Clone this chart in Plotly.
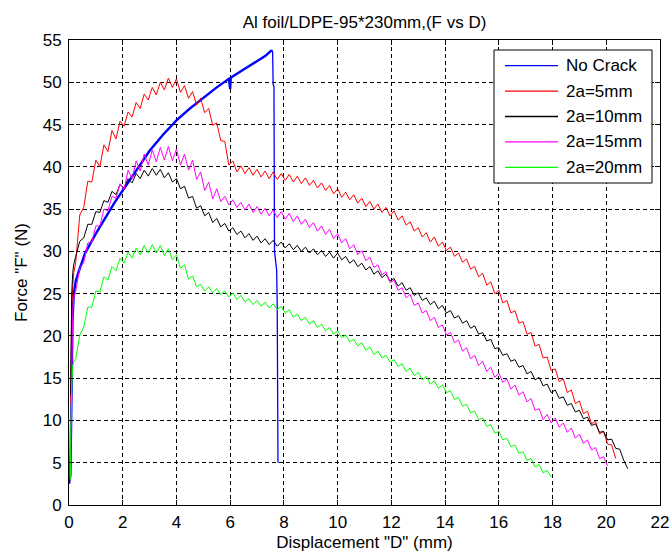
import plotly.graph_objects as go

# ---------------------------------------------------------------------------
# Data: force (N) against displacement (mm) for the five specimens
# ---------------------------------------------------------------------------

# Displacement sampling points shared by the cracked specimens (mm)
disp_grid = [
    0.25, 0.40, 0.55, 0.70, 0.85, 1.00, 1.15, 1.30, 1.45, 1.60,
    1.75, 1.90, 2.05, 2.20, 2.35, 2.50, 2.65, 2.80, 2.95, 3.10,
    3.25, 3.40, 3.55, 3.70, 3.85, 4.00, 4.15, 4.30, 4.45, 4.60,
    4.75, 4.90, 5.05, 5.20, 5.35, 5.50, 5.65, 5.80, 5.95, 6.10,
    6.25, 6.40, 6.55, 6.70, 6.85, 7.00, 7.15, 7.30, 7.45, 7.60,
    7.75, 7.90, 8.05, 8.20, 8.35, 8.50, 8.65, 8.80, 8.95, 9.10,
    9.25, 9.40, 9.55, 9.70, 9.85, 10.00, 10.15, 10.30, 10.45, 10.60,
    10.75, 10.90, 11.05, 11.20, 11.35, 11.50, 11.65, 11.80, 11.95, 12.10,
    12.25, 12.40, 12.55, 12.70, 12.85, 13.00, 13.15, 13.30, 13.45, 13.60,
    13.75, 13.90, 14.05, 14.20, 14.35, 14.50, 14.65, 14.80, 14.95, 15.10,
    15.25, 15.40, 15.55, 15.70, 15.85, 16.00, 16.15, 16.30, 16.45, 16.60,
    16.75, 16.90, 17.05, 17.20, 17.35, 17.50, 17.65, 17.80, 17.95, 18.10,
    18.25, 18.40, 18.55, 18.70, 18.85, 19.00, 19.15, 19.30, 19.45, 19.60,
    19.75, 19.90, 20.05, 20.20, 20.35, 20.50, 20.65, 20.80,
]

# No crack: smooth loading up to failure, then sudden drop
nocrack_d = [0.00, 0.05, 0.08, 0.10, 0.13, 0.18, 0.25, 0.35, 0.60, 1.00,
             1.40, 1.70, 2.00, 2.50, 3.00, 3.50, 4.00, 4.50, 5.00, 5.50,
             5.95, 6.00, 6.02, 6.05, 6.50, 7.00, 7.30, 7.55, 7.58, 7.60,
             7.63, 7.65, 7.70, 7.73, 7.75, 7.78]
nocrack_f = [2.5, 3.5, 10.0, 17.0, 22.0, 25.0, 26.5, 27.5, 29.8, 32.1,
             34.3, 35.8, 37.2, 39.6, 41.9, 43.8, 45.5, 46.9, 48.2, 49.4,
             50.4, 49.2, 50.5, 50.6, 51.5, 52.5, 53.1, 53.8, 53.6, 49.7,
             49.5, 30.0, 28.5, 27.8, 24.0, 5.0]

# 2a = 5 mm
crack5_start_d = [0.06, 0.08, 0.10, 0.14, 0.18]
crack5_start_f = [12.0, 19.0, 23.0, 26.0, 27.5]
crack5_f = [
    28.7, 34.3, 35.2, 38.3, 38.2, 40.8, 40.0, 42.6, 41.8, 44.3,
    43.3, 45.4, 44.8, 46.5, 45.9, 47.6, 46.9, 48.6, 47.9, 49.4,
    48.5, 50.0, 49.1, 50.5, 49.4, 50.4, 48.8, 49.6, 48.1, 48.9,
    47.3, 48.1, 46.4, 46.9, 44.9, 45.2, 43.1, 43.0, 40.2, 40.7,
    39.4, 40.1, 39.2, 39.9, 39.0, 39.7, 38.8, 39.5, 38.6, 39.4,
    38.5, 39.2, 38.4, 39.1, 38.2, 38.9, 38.0, 38.7, 37.8, 38.4,
    37.5, 38.1, 37.2, 37.8, 36.8, 37.4, 36.4, 37.0, 36.1, 36.7,
    35.7, 36.3, 35.3, 35.9, 35.0, 35.6, 34.6, 35.2, 34.2, 34.8,
    33.7, 34.2, 33.1, 33.5, 32.4, 32.8, 31.7, 32.2, 31.1, 31.7,
    30.6, 31.1, 30.1, 30.5, 29.4, 29.8, 28.7, 29.1, 27.9, 28.2,
    27.0, 27.4, 26.0, 26.4, 25.0, 25.4, 23.9, 24.2, 22.7, 23.0,
    21.5, 21.7, 20.2, 20.4, 18.8, 19.0, 17.4, 17.5, 15.9, 16.1,
    14.6, 14.9, 13.3, 13.6, 12.0, 12.3, 10.8, 11.1, 9.6, 9.9,
    8.4, 8.7, 7.2, 7.1, 5.5,
]

# 2a = 10 mm
crack10_start_d = [0.06, 0.08, 0.10, 0.14, 0.18]
crack10_start_f = [13.0, 20.0, 25.0, 27.5, 28.5]
crack10_f = [
    29.4, 31.2, 31.6, 33.2, 33.2, 34.7, 34.6, 36.0, 35.8, 37.1,
    36.7, 37.9, 37.5, 38.6, 38.1, 39.2, 38.6, 39.6, 38.9, 39.8,
    39.0, 39.7, 38.7, 39.3, 38.2, 38.6, 37.4, 37.7, 36.3, 36.5,
    35.1, 35.4, 34.2, 34.6, 33.4, 33.9, 32.9, 33.3, 32.4, 32.8,
    32.0, 32.4, 31.6, 32.1, 31.3, 31.8, 31.0, 31.5, 30.8, 31.3,
    30.6, 31.1, 30.4, 30.9, 30.2, 30.7, 30.0, 30.5, 29.8, 30.3,
    29.6, 30.1, 29.4, 29.9, 29.2, 29.8, 29.0, 29.4, 28.6, 29.0,
    28.2, 28.6, 27.8, 28.2, 27.3, 27.7, 26.9, 27.3, 26.5, 26.8,
    25.9, 26.3, 25.4, 25.7, 24.8, 25.1, 24.2, 24.5, 23.7, 24.1,
    23.2, 23.6, 22.7, 23.0, 22.1, 22.4, 21.5, 21.8, 20.9, 21.2,
    20.2, 20.4, 19.4, 19.6, 18.5, 18.6, 17.7, 17.9, 17.0, 17.2,
    16.3, 16.5, 15.5, 15.8, 14.8, 15.1, 14.1, 14.3, 13.3, 13.6,
    12.6, 12.8, 11.8, 12.0, 11.0, 11.2, 10.2, 10.4, 9.4, 9.6,
    8.6, 8.7, 7.7, 7.8, 6.7, 6.6, 5.3, 4.3,
]

# 2a = 15 mm
crack15_start_d = [0.04, 0.06, 0.08, 0.10, 0.14, 0.18]
crack15_start_f = [3.0, 8.0, 14.0, 20.0, 23.0, 24.5]
crack15_f = [
    25.3, 28.0, 28.7, 31.0, 31.1, 33.0, 33.0, 35.0, 34.8, 36.5,
    36.3, 38.0, 37.3, 39.6, 38.6, 40.7, 39.5, 41.5, 40.2, 42.0,
    40.6, 42.3, 40.8, 42.4, 40.7, 42.1, 40.2, 41.5, 39.6, 40.8,
    38.5, 39.4, 37.2, 38.2, 36.2, 37.4, 35.9, 36.5, 35.5, 36.1,
    35.2, 35.8, 34.9, 35.6, 34.6, 35.3, 34.4, 35.1, 34.2, 34.9,
    34.0, 34.7, 33.8, 34.5, 33.5, 34.2, 33.2, 33.8, 32.8, 33.4,
    32.4, 33.0, 32.0, 32.6, 31.5, 32.1, 31.0, 31.5, 30.3, 30.8,
    29.6, 30.1, 28.9, 29.3, 28.1, 28.4, 27.2, 27.6, 26.3, 26.6,
    25.4, 25.7, 24.5, 24.9, 23.6, 23.9, 22.7, 23.0, 21.8, 22.2,
    21.0, 21.3, 20.1, 20.4, 19.2, 19.5, 18.2, 18.6, 17.3, 17.7,
    16.5, 17.0, 15.8, 16.3, 15.1, 15.6, 14.5, 14.9, 13.7, 14.2,
    13.0, 13.4, 12.2, 12.6, 11.2, 11.4, 10.1, 10.7, 9.7, 10.3,
    9.2, 9.7, 8.6, 9.1, 7.9, 8.4, 7.3, 7.7, 6.5, 6.8,
    5.5, 5.7, 4.6,
]

# 2a = 20 mm
crack20_start_d = [0.05, 0.05, 0.07, 0.10, 0.14, 0.18]
crack20_start_f = [3.0, 5.5, 9.5, 14.0, 16.5, 17.0]
crack20_f = [
    17.3, 20.1, 21.1, 23.4, 23.4, 25.3, 25.2, 27.0, 26.6, 28.2,
    27.7, 29.2, 28.6, 29.9, 29.2, 30.4, 29.6, 30.7, 29.8, 30.8,
    29.8, 30.7, 29.5, 30.3, 29.0, 29.6, 28.0, 28.4, 26.7, 27.1,
    25.8, 26.1, 25.3, 25.8, 25.1, 25.6, 24.9, 25.3, 24.6, 25.1,
    24.3, 24.8, 24.0, 24.4, 23.7, 24.2, 23.5, 24.0, 23.3, 23.8,
    23.1, 23.5, 22.7, 23.1, 22.2, 22.6, 21.8, 22.2, 21.4, 21.8,
    21.0, 21.4, 20.6, 21.0, 20.2, 20.6, 19.8, 20.1, 19.3, 19.6,
    18.8, 19.2, 18.3, 18.7, 17.8, 18.2, 17.4, 17.7, 16.9, 17.2,
    16.4, 16.7, 15.8, 16.2, 15.3, 15.7, 14.8, 15.2, 14.3, 14.7,
    13.8, 14.2, 13.3, 13.5, 12.5, 12.7, 11.7, 11.9, 10.9, 11.1,
    10.1, 10.3, 9.3, 9.5, 8.5, 8.7, 7.7, 7.9, 6.9, 7.1,
    6.1, 6.3, 5.3, 5.5, 4.5, 4.8, 3.8, 4.1, 3.3,
]

series_names = ["No Crack", "2a=5mm", "2a=10mm", "2a=15mm", "2a=20mm"]
series_colors = ["#0000FF", "#FF0000", "#000000", "#FF00FF", "#00FF00"]

x_ticks = [0, 2, 4, 6, 8, 10, 12, 14, 16, 18, 20, 22]
y_ticks = [0, 5, 10, 15, 20, 25, 30, 35, 40, 45, 50, 55]

# ---------------------------------------------------------------------------
# Figure geometry
# ---------------------------------------------------------------------------
W, H = 670, 558
L, R, T, B = 69, 10, 40, 53
PW, PH = W - L - R, H - T - B
FONT = "Liberation Sans, Arial, Helvetica, sans-serif"
FS = 17


def paper_x(px):
    return (px - L) / PW


def paper_y(py):
    return (H - B - py) / PH


def cracked(start_d, start_f, tail_f):
    d = list(start_d) + disp_grid[:len(tail_f)]
    f = list(start_f) + list(tail_f)
    return d, f


fig = go.Figure()

# No-crack specimen: loading branch drawn heavier, failure drop thin
peak = nocrack_f.index(max(nocrack_f))
fig.add_trace(go.Scatter(
    x=nocrack_d[:peak + 1], y=nocrack_f[:peak + 1], mode="lines",
    line=dict(color=series_colors[0], width=2.4), name=series_names[0],
    showlegend=False, hoverinfo="skip"))
fig.add_trace(go.Scatter(
    x=nocrack_d[peak:], y=nocrack_f[peak:], mode="lines",
    line=dict(color=series_colors[0], width=1.3), showlegend=False,
    hoverinfo="skip"))

for name, color, (d, f) in zip(
        series_names[1:], series_colors[1:],
        [cracked(crack5_start_d, crack5_start_f, crack5_f),
         cracked(crack10_start_d, crack10_start_f, crack10_f),
         cracked(crack15_start_d, crack15_start_f, crack15_f),
         cracked(crack20_start_d, crack20_start_f, crack20_f)]):
    fig.add_trace(go.Scatter(
        x=d, y=f, mode="lines", line=dict(color=color, width=1.0),
        name=name, showlegend=False, hoverinfo="skip"))

axis_common = dict(
    showline=True, linecolor="black", linewidth=1, mirror="ticks",
    ticks="inside", ticklen=5, tickwidth=1, tickcolor="black",
    showgrid=True, gridcolor="black", gridwidth=1, griddash="4px,3px",
    zeroline=False, automargin=False,
    tickfont=dict(family=FONT, size=FS, color="black"),
)

fig.update_xaxes(range=[0, 22], tickvals=x_ticks, ticklabelstandoff=2,
                 title=dict(text='Displacement "D" (mm)', standoff=4,
                            font=dict(family=FONT, size=FS, color="black")),
                 **axis_common)
fig.update_yaxes(range=[0, 55], tickvals=y_ticks, ticklabelstandoff=3,
                 title=dict(text='Force "F" (N)', standoff=10,
                            font=dict(family=FONT, size=FS, color="black")),
                 **axis_common)

# Boxed legend in the upper-right corner of the axes
shapes = [dict(type="rect", xref="paper", yref="paper",
               x0=paper_x(494), x1=paper_x(652),
               y0=paper_y(183), y1=paper_y(50),
               line=dict(color="black", width=1), fillcolor="white",
               layer="above")]
annotations = []
entry_rows = [65.7, 91.1, 116.5, 141.9, 167.3]
for name, color, row in zip(series_names, series_colors, entry_rows):
    shapes.append(dict(type="line", xref="paper", yref="paper",
                       x0=paper_x(505), x1=paper_x(558),
                       y0=paper_y(row), y1=paper_y(row),
                       line=dict(color=color, width=1.3), layer="above"))
    annotations.append(dict(xref="paper", yref="paper",
                            x=paper_x(564), y=paper_y(row),
                            xanchor="left", yanchor="middle",
                            text=name, showarrow=False,
                            font=dict(family=FONT, size=FS, color="black")))

fig.update_layout(
    width=W, height=H,
    margin=dict(l=L, r=R, t=T, b=B, pad=0),
    paper_bgcolor="white", plot_bgcolor="white",
    showlegend=False,
    title=dict(text="Al foil/LDPE-95*230mm,(F vs D)",
               xref="paper", x=0.5, xanchor="center",
               yref="container", y=1 - 22 / H, yanchor="middle",
               font=dict(family=FONT, size=FS, color="black")),
    shapes=shapes, annotations=annotations,
)

fig.write_html("out.html")
